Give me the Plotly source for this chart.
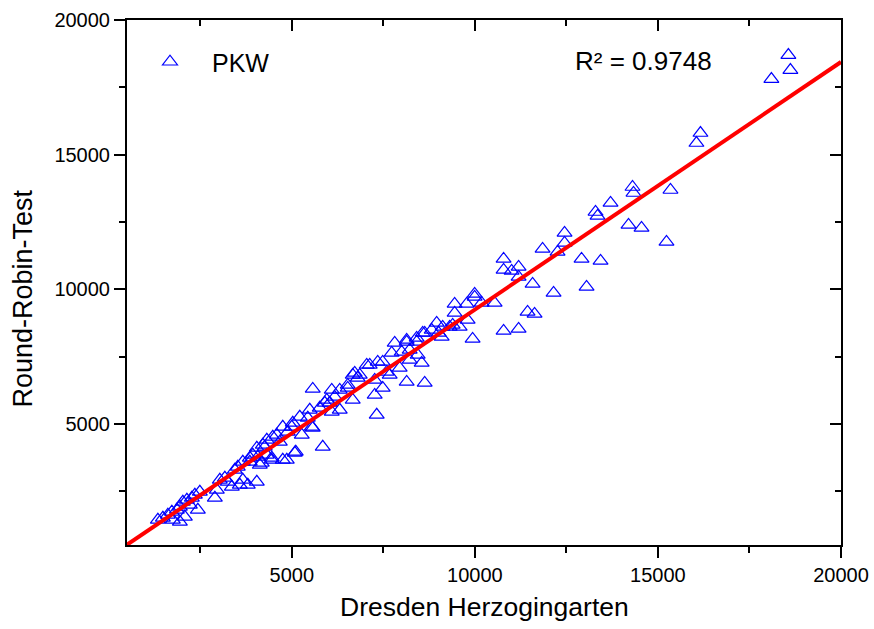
import plotly.graph_objects as go

# Data (Dresden Herzogingarten vs Round-Robin-Test, PKW)
pkw_x = [18563, 18618, 18099, 16162, 16052, 15343, 15234, 14552, 14306, 14333,
         14197, 13706, 13296, 13351, 13433, 13051, 12914, 12450, 12450, 12259,
         11850, 12150, 11631, 11440, 11577, 11195, 11195, 11195, 11004, 10785,
         10785, 10785, 10540, 10185, 9994, 9994, 9776, 9448, 9448, 9803,
         9585, 9312, 9939, 9121, 8957, 8821, 8630, 8411, 8138, 9094,
         9394, 9012, 8411, 8138, 7811, 8575, 7729, 8002, 8220, 8439,
         8548, 8220, 7947, 7483, 7347, 7129, 6856, 6719, 7265, 7593,
         7674, 8138, 8630, 7483, 7265, 6665, 6528, 6310, 6092, 5955,
         6037, 6173, 5573, 6528, 6665, 6801, 7047, 6310, 6092, 5901,
         5764, 5491, 5437, 5218, 5546, 5027, 5000, 4754, 4891, 4481,
         4591, 4318, 4209, 4673, 5273, 5573, 5109, 5846, 7320, 4045,
         3936, 4318, 4454, 4754, 3663, 3854, 4181, 1343, 1480, 1616,
         1725, 1862, 1944, 2025, 2135, 2271, 2353, 2489, 2216, 2435,
         2080, 1752, 1944, 2899, 2953, 3035, 3172, 3253, 3444, 3526,
         3363, 3663, 3799, 4045, 3581, 3854, 4072, 4127, 4263, 4454,
         4864, 5082]
pkw_y = [18697, 18140, 17806, 15802, 15431, 13686, 11756, 12276, 13797, 13575,
         12387, 13204, 12869, 12721, 11051, 10085, 11125, 12090, 11719, 11385,
         11496, 9863, 9083, 9157, 10197, 8526, 10828, 10457, 10679, 11125,
         10716, 8452, 9492, 9492, 9826, 9714, 9454, 9454, 9120, 8860,
         8601, 8601, 8155, 8601, 8749, 8489, 8378, 8192, 8118, 8229,
         8675, 8378, 8044, 8044, 8007, 8378, 7636, 7673, 7747, 7561,
         7264, 7376, 7079, 7301, 7301, 7190, 6819, 6893, 6633, 6930,
         6819, 6559, 6522, 6336, 6076, 5891, 6336, 6262, 6262, 5891,
         5780, 6002, 6299, 6448, 6819, 6708, 7190, 5520, 5445, 5780,
         5594, 5520, 5223, 5260, 4889, 5037, 4889, 4889, 4703, 4517,
         4592, 4406, 4220, 4332, 4592, 4852, 3961, 4146, 5334, 4109,
         3849, 3849, 3664, 3664, 3589, 3738, 3552, 1436, 1511, 1622,
         1733, 1808, 1919, 2105, 2179, 2253, 2364, 2476, 1993, 1808,
         1548, 1436, 1362, 2253, 2550, 2921, 2996, 2847, 3292, 3404,
         2661, 2921, 2736, 2847, 2736, 3589, 3775, 3478, 4146, 3738,
         3664, 3924]

# Linear fit shown in the chart
fit_x = [500, 20000]
fit_slope = 0.9195
fit_intercept = 50
fit_y = [fit_intercept + fit_slope * v for v in fit_x]
r2_text = "R\u00b2 = 0.9748"

x_ticks = [5000, 10000, 15000, 20000]
y_ticks = [5000, 10000, 15000, 20000]
axis_range = [500, 20000]

FONT = "Liberation Sans, Arial, sans-serif"

fig = go.Figure()
fig.add_trace(go.Scatter(
    x=pkw_x, y=pkw_y, mode="markers", name="PKW",
    marker=dict(symbol="triangle-up-open", size=13, color="#0000FF",
                line=dict(color="#0000FF", width=1.2)),
))
fig.add_trace(go.Scatter(
    x=fit_x, y=fit_y, mode="lines", showlegend=False,
    line=dict(color="#FF0000", width=4),
))
# helper trace for the mirrored (top/right) axes
fig.add_trace(go.Scatter(x=[], y=[], xaxis="x2", yaxis="y2", showlegend=False))

common = dict(
    showgrid=False, zeroline=False, showline=True, linecolor="black", linewidth=2,
    tickwidth=2, tickcolor="black", range=axis_range, automargin=False,
)

fig.update_layout(
    width=874, height=629, autosize=False,
    margin=dict(l=127, r=33, t=20, b=84),
    paper_bgcolor="white", plot_bgcolor="white",
    font=dict(family=FONT, color="black", size=20),
    xaxis=dict(**common, tickvals=x_ticks, tickformat="d", ticks="outside", ticklen=11,
               tickfont=dict(size=20, family=FONT),
               minor=dict(ticks="outside", ticklen=6, tickwidth=2, dtick=2500, tick0=0,
                          tickcolor="black")),
    yaxis=dict(**common, tickvals=y_ticks, tickformat="d", ticks="outside", ticklen=11,
               tickfont=dict(size=20, family=FONT),
               minor=dict(ticks="outside", ticklen=6, tickwidth=2, dtick=2500, tick0=0,
                          tickcolor="black")),
    xaxis2=dict(**common, overlaying="x", side="top", anchor="y", tickvals=x_ticks,
                ticks="inside", ticklen=11, showticklabels=False,
                minor=dict(ticks="inside", ticklen=6, tickwidth=2, dtick=2500, tick0=0,
                           tickcolor="black")),
    yaxis2=dict(**common, overlaying="y", side="right", anchor="x", tickvals=y_ticks,
                ticks="inside", ticklen=11, showticklabels=False,
                minor=dict(ticks="inside", ticklen=6, tickwidth=2, dtick=2500, tick0=0,
                           tickcolor="black")),
    showlegend=True,
    legend=dict(x=0.0014, y=0.92, xanchor="left", yanchor="middle",
                bgcolor="rgba(0,0,0,0)", borderwidth=0,
                font=dict(size=25, family=FONT), itemwidth=74),
    annotations=[
        dict(text=r2_text, x=0.822, y=0.922, xref="paper", yref="paper",
             xanchor="right", yanchor="middle", showarrow=False,
             font=dict(size=26, family=FONT)),
        dict(text="Dresden Herzogingarten", x=0.5, y=0, xref="paper", yref="paper",
             xanchor="center", yanchor="middle", yshift=-62, showarrow=False,
             font=dict(size=26.5, family=FONT)),
        dict(text="Round-Robin-Test", x=0, y=0.5, xref="paper", yref="paper",
             xanchor="center", yanchor="middle", xshift=-105, yshift=-16, textangle=-90,
             showarrow=False, font=dict(size=27, family=FONT)),
    ],
)

fig.write_html("out.html")
